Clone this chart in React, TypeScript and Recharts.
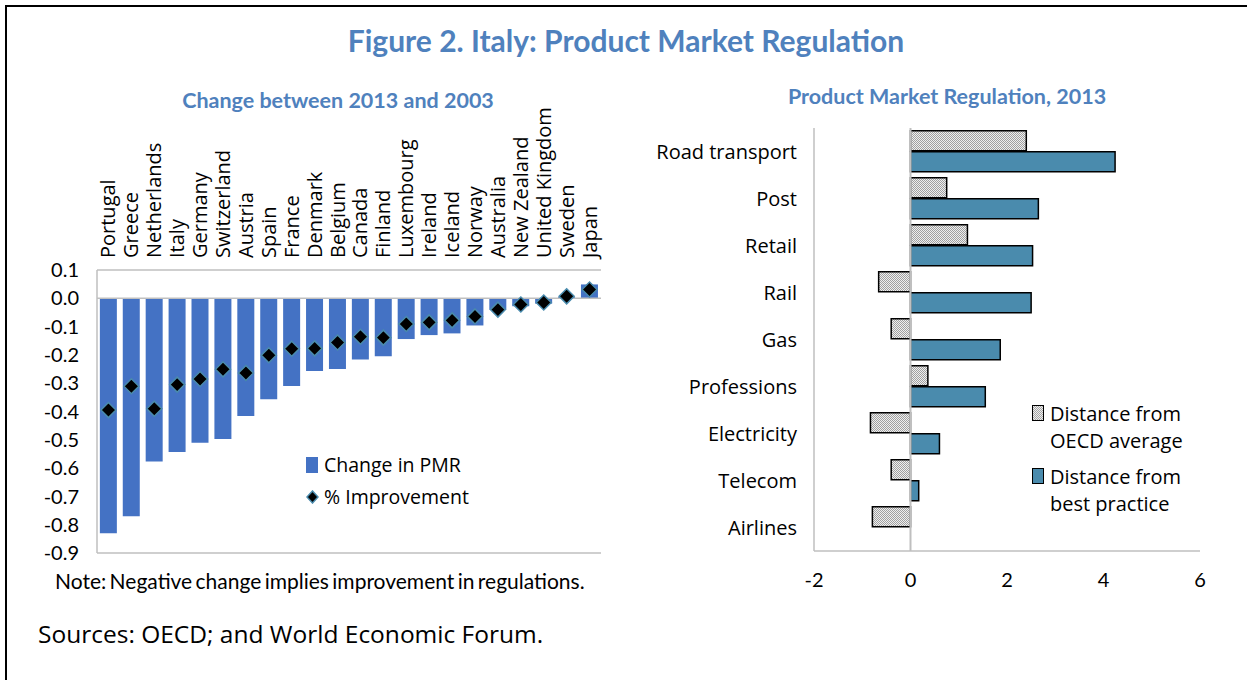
import React from "react";
import {
  ComposedChart, BarChart, Bar, Line, XAxis, YAxis, ReferenceLine,
} from "recharts";

// left panel: change between 2013 and 2003
const countries = [
  "Portugal", "Greece", "Netherlands", "Italy", "Germany", "Switzerland", "Austria",
  "Spain", "France", "Denmark", "Belgium", "Canada", "Finland", "Luxembourg", "Ireland",
  "Iceland", "Norway", "Australia", "New Zealand", "United Kingdom", "Sweden", "Japan",
];
const pmrChange = [
  -0.83, -0.77, -0.577, -0.543, -0.51, -0.497, -0.416, -0.357, -0.31, -0.257, -0.25,
  -0.216, -0.205, -0.144, -0.13, -0.124, -0.096, -0.04, -0.028, -0.019, 0.005, 0.049,
];
const pctImprovement = [
  -0.395, -0.311, -0.39, -0.305, -0.285, -0.251, -0.264, -0.201, -0.178, -0.177, -0.156,
  -0.136, -0.139, -0.091, -0.085, -0.078, -0.064, -0.04, -0.022, -0.015, 0.007, 0.031,
];
const leftTicks = [0.1, 0, -0.1, -0.2, -0.3, -0.4, -0.5, -0.6, -0.7, -0.8, -0.9];

// right panel: PMR 2013
const sectors = [
  "Road transport", "Post", "Retail", "Rail", "Gas", "Professions", "Electricity", "Telecom", "Airlines",
];
const fromOecd = [2.4, 0.75, 1.18, -0.66, -0.4, 0.36, -0.83, -0.4, -0.79];
const fromBest = [4.24, 2.65, 2.53, 2.5, 1.86, 1.55, 0.6, 0.17, 0];
const rightTicks = [-2, 0, 2, 4, 6];

const leftData = countries.map((c, i) => ({ name: c, pmr: pmrChange[i], pct: pctImprovement[i] }));
const rightData = sectors.map((s, i) => ({ name: s, oecd: fromOecd[i], best: fromBest[i] }));

const BLUE = "#4472C4";
const TEAL = "#4A8BAD";
const TITLE = "#4F81BD";
const BOX = "#BFBFBF";
const NUM_FONT = "Lato, sans-serif";
const LABEL_FONT = "'Open Sans', sans-serif";

function Diamond(props: any) {
  const { cx, cy } = props;
  if (cx == null || cy == null) return null;
  const r = 7.5;
  return (
    <path
      d={`M${cx},${cy - r}L${cx + r},${cy}L${cx},${cy + r}L${cx - r},${cy}Z`}
      fill="#000"
      stroke={TEAL}
      strokeWidth={1.5}
    />
  );
}

function CountryTick(props: any) {
  const { x, y, payload } = props;
  return (
    <text
      transform={`translate(${x},${y}) rotate(-90)`}
      dy="0.35em"
      textAnchor="start"
      fontSize={20}
      fontFamily={LABEL_FONT}
      fill="#000"
    >
      {payload.value}
    </text>
  );
}

function LeftLegend() {
  return (
    <div style={{ position: "absolute", left: 306, top: 449, fontFamily: LABEL_FONT, fontSize: 19.5, color: "#000", lineHeight: "32px" }}>
      <div style={{ display: "flex", alignItems: "center" }}>
        <span style={{ width: 12, height: 16, background: BLUE, display: "inline-block", marginRight: 6 }} />
        Change in PMR
      </div>
      <div style={{ display: "flex", alignItems: "center" }}>
        <svg width={13} height={14} style={{ marginRight: 5 }}>
          <path d="M6.5,1L12,7L6.5,13L1,7Z" fill="#000" stroke={TEAL} strokeWidth={1.5} />
        </svg>
        % Improvement
      </div>
    </div>
  );
}

function RightLegend() {
  const sw = (fill: string) => (
    <span
      style={{
        width: 10, height: 14, background: fill, border: "1.5px solid #000",
        display: "inline-block", marginRight: 6, marginTop: 5, flexShrink: 0,
      }}
    />
  );
  return (
    <div style={{ position: "absolute", left: 1032, top: 400, fontFamily: LABEL_FONT, fontSize: 20, color: "#000", lineHeight: "27px" }}>
      <div style={{ display: "flex", alignItems: "flex-start", marginBottom: 9 }}>
        {sw("repeating-conic-gradient(#a6a6a6 0 25%, #efefef 0 50%) 0 0 / 2px 2px")}
        <div>Distance from<br />OECD average</div>
      </div>
      <div style={{ display: "flex", alignItems: "flex-start" }}>
        {sw(TEAL)}
        <div>Distance from<br />best practice</div>
      </div>
    </div>
  );
}

export default function App() {
  return (
    <div style={{ position: "fixed", left: 0, top: 0, width: 1247, height: 680, background: "#fff", overflow: "hidden" }}>
      <div style={{ position: "absolute", left: 5, top: 5, width: 1300, height: 700, borderLeft: "2px solid #000", borderTop: "2px solid #000" }} />

      <div style={{ position: "absolute", left: 0, width: 1252, top: 22, textAlign: "center", fontFamily: NUM_FONT, fontWeight: 700, fontSize: 30, lineHeight: "36px", color: TITLE }}>
        Figure 2. Italy: Product Market Regulation
      </div>
      <div style={{ position: "absolute", left: 138, width: 400, top: 87, textAlign: "center", fontFamily: NUM_FONT, fontWeight: 700, fontSize: 21.5, lineHeight: "26px", color: TITLE }}>
        Change between 2013 and 2003
      </div>
      <div style={{ position: "absolute", left: 747, width: 400, top: 83, textAlign: "center", fontFamily: NUM_FONT, fontWeight: 700, fontSize: 21.5, lineHeight: "26px", color: TITLE }}>
        Product Market Regulation, 2013
      </div>

      <div style={{ position: "absolute", left: 0, top: 0 }}>
        <ComposedChart
          width={610}
          height={575}
          data={leftData}
          margin={{ top: 110, right: 9, bottom: 21, left: 0 }}
          barCategoryGap="12.5%"
        >
          <XAxis
            dataKey="name"
            orientation="top"
            height={160}
            interval={0}
            tickLine={false}
            tickSize={0}
            tickMargin={12}
            axisLine={{ stroke: BOX, strokeWidth: 1.5 }}
            tick={<CountryTick />}
          />
          <XAxis xAxisId="b" dataKey="name" orientation="bottom" height={1} tick={false} tickLine={false} axisLine={{ stroke: BOX, strokeWidth: 1.5 }} />
          <YAxis
            domain={[-0.9, 0.1]}
            ticks={leftTicks}
            interval={0}
            width={97}
            tickLine={false}
            tickSize={0}
            tickMargin={18}
            axisLine={{ stroke: BOX, strokeWidth: 1.5 }}
            tickFormatter={(v: number) => v.toFixed(1)}
            tick={{ fontSize: 20, fontFamily: NUM_FONT, fill: "#000" }}
          />
          <YAxis yAxisId="r" orientation="right" width={0} domain={[0, 1]} tick={false} tickLine={false} axisLine={{ stroke: BOX, strokeWidth: 1.5 }} />
          <ReferenceLine y={0} stroke={BOX} strokeWidth={1.5} />
          <Bar dataKey="pmr" fill={BLUE} isAnimationActive={false} />
          <Line dataKey="pct" stroke="none" dot={<Diamond />} activeDot={false} isAnimationActive={false} />
        </ComposedChart>
      </div>
      <LeftLegend />

      <div style={{ position: "absolute", left: 640, top: 0 }}>
        <BarChart
          layout="vertical"
          width={575}
          height={600}
          data={rightData}
          margin={{ top: 128, right: 15, bottom: 4, left: 0 }}
          barCategoryGap="6%"
          barGap={1}
        >
          <defs>
            <pattern id="hatch" patternUnits="userSpaceOnUse" width={2} height={2}>
              <rect width={2} height={2} fill="#efefef" />
              <rect width={1} height={1} fill="#a0a0a0" />
              <rect x={1} y={1} width={1} height={1} fill="#a0a0a0" />
            </pattern>
          </defs>
          <XAxis
            type="number"
            domain={[-2, 6]}
            ticks={rightTicks}
            interval={0}
            height={45}
            tickLine={false}
            tickSize={0}
            tickMargin={22}
            axisLine={{ stroke: BOX, strokeWidth: 1.5 }}
            tick={{ fontSize: 20, fontFamily: NUM_FONT, fill: "#000" }}
          />
          <XAxis xAxisId="t" type="number" domain={[-2, 6]} orientation="top" height={0} tick={false} tickLine={false} axisLine={{ stroke: BOX, strokeWidth: 1.5 }} />
          <YAxis
            type="category"
            dataKey="name"
            width={174}
            interval={0}
            tickLine={false}
            tickSize={0}
            tickMargin={17}
            axisLine={{ stroke: BOX, strokeWidth: 1.5 }}
            tick={{ fontSize: 20, fontFamily: LABEL_FONT, fill: "#000" }}
          />
          <YAxis yAxisId="r" type="category" dataKey="name" orientation="right" width={0} tick={false} tickLine={false} axisLine={{ stroke: BOX, strokeWidth: 1.5 }} />
          <ReferenceLine x={0} stroke={BOX} strokeWidth={2} />
          <Bar dataKey="oecd" fill="url(#hatch)" stroke="#000" strokeWidth={1.5} isAnimationActive={false} />
          <Bar dataKey="best" fill={TEAL} stroke="#000" strokeWidth={1.5} isAnimationActive={false} />
        </BarChart>
      </div>
      <RightLegend />

      <div style={{ position: "absolute", left: 55, top: 568, fontFamily: NUM_FONT, fontSize: 21, lineHeight: "25px", color: "#000", wordSpacing: -2 }}>
        Note: Negative change implies improvement in regulations.
      </div>
      <div style={{ position: "absolute", left: 38, top: 617, fontFamily: LABEL_FONT, fontSize: 24.5, lineHeight: "33px", color: "#000" }}>
        Sources: OECD; and World Economic Forum.
      </div>
    </div>
  );
}
